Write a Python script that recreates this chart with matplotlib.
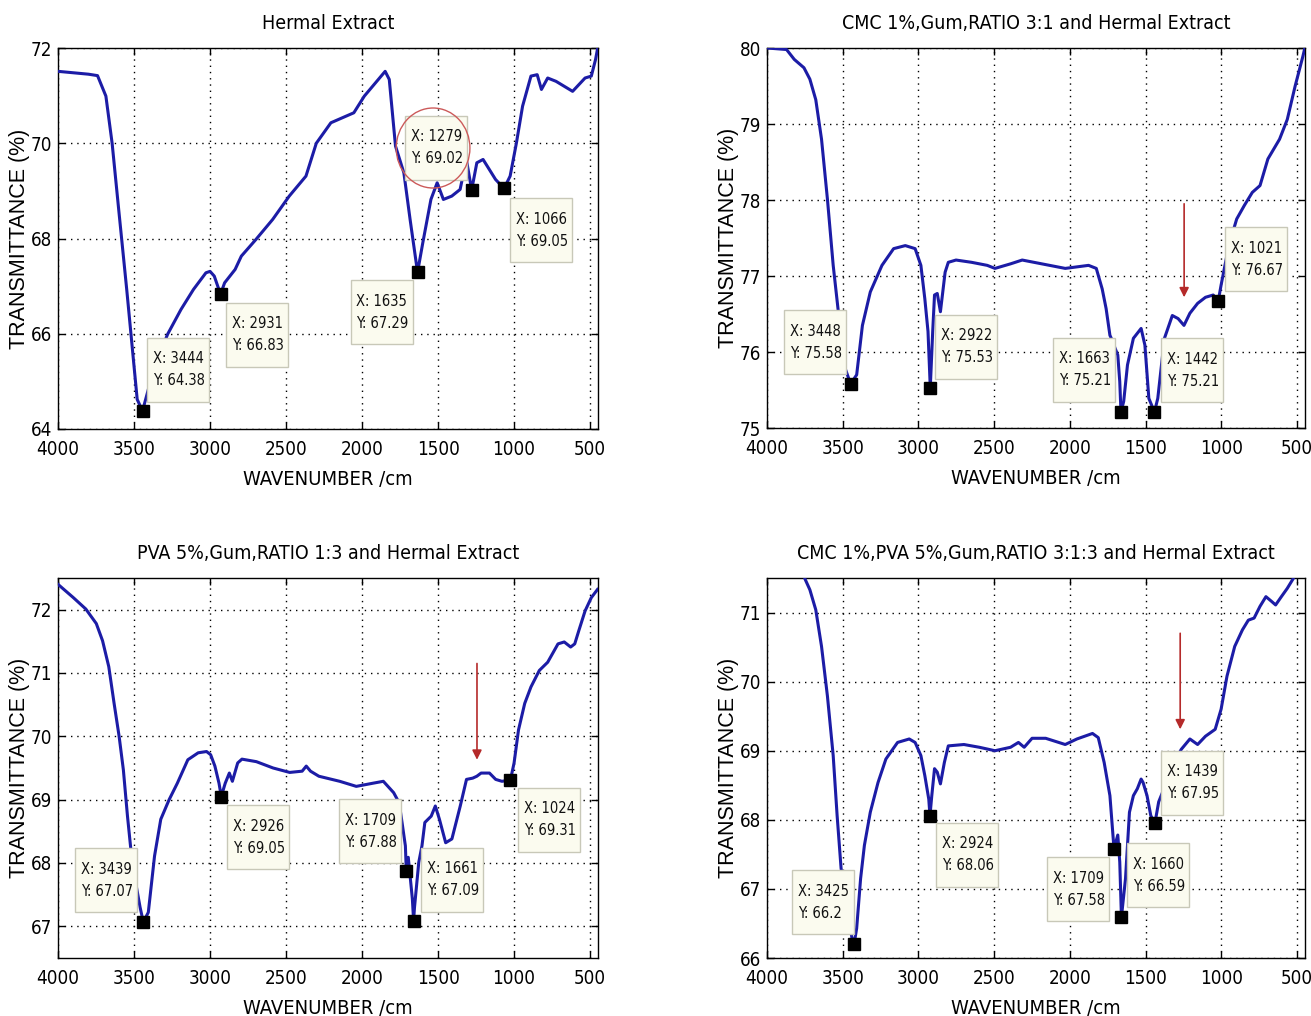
import matplotlib
matplotlib.use("Agg")
import matplotlib.pyplot as plt
from matplotlib.patches import Ellipse, Rectangle
from matplotlib.transforms import IdentityTransform

# ---------------- data ----------------
titles = ["Hermal Extract",
          "CMC 1%,Gum,RATIO 3:1 and Hermal Extract",
          "PVA 5%,Gum,RATIO 1:3 and Hermal Extract",
          "CMC 1%,PVA 5%,Gum,RATIO 3:1:3 and Hermal Extract"]

wn1 = [4000, 3900, 3800, 3740, 3685, 3644, 3603, 3548, 3479, 3444, 3400, 3340, 3279, 3191, 3109,
       3027, 3000, 2972, 2931, 2904, 2835, 2794, 2698, 2588, 2479, 2369, 2301, 2205, 2054, 1985,
       1848, 1821, 1780, 1725, 1684, 1635, 1601, 1547, 1506, 1465, 1410, 1355, 1314, 1279, 1245,
       1204, 1163, 1122, 1066, 1026, 985, 944, 889, 848, 820, 779, 724, 615, 533, 492, 464, 450]
tr1 = [71.51, 71.48, 71.45, 71.42, 70.99, 70.0, 68.68, 66.93, 64.62, 64.38, 64.9, 65.5, 65.99,
       66.51, 66.93, 67.28, 67.31, 67.21, 66.83, 67.07, 67.35, 67.63, 67.98, 68.40, 68.89, 69.31,
       70.0, 70.43, 70.64, 70.99, 71.51, 71.34, 69.94, 69.38, 68.4, 67.29, 67.9, 68.82, 69.17,
       68.82, 68.89, 69.03, 69.66, 69.02, 69.59, 69.66, 69.45, 69.24, 69.05, 69.31, 70.0, 70.78,
       71.41, 71.44, 71.13, 71.37, 71.3, 71.09, 71.37, 71.41, 71.76, 72.0]

wn2 = [4000, 3871, 3820, 3756, 3717, 3678, 3640, 3601, 3563, 3524, 3485, 3448, 3408, 3370, 3318,
       3241, 3164, 3087, 3022, 2984, 2958, 2937, 2922, 2906, 2894, 2876, 2855, 2824, 2803, 2752,
       2649, 2546, 2495, 2392, 2315, 2186, 2031, 1877, 1826, 1787, 1761, 1736, 1718, 1702, 1684,
       1671, 1663, 1645, 1620, 1581, 1530, 1505, 1479, 1442, 1420, 1376, 1324, 1286, 1247, 1208,
       1157, 1105, 1054, 1021, 1002, 951, 899, 848, 796, 745, 693, 616, 565, 513, 462, 449]
tr2 = [80.0, 79.98, 79.85, 79.74, 79.59, 79.32, 78.8, 78.01, 77.14, 76.44, 75.79, 75.58, 75.70,
       76.35, 76.79, 77.14, 77.36, 77.40, 77.36, 77.14, 76.70, 76.27, 75.53, 76.27, 76.75, 76.77,
       76.53, 77.05, 77.18, 77.21, 77.18, 77.14, 77.10, 77.16, 77.21, 77.16, 77.10, 77.14, 77.10,
       76.83, 76.57, 76.22, 76.14, 76.05, 75.96, 75.61, 75.21, 75.35, 75.83, 76.18, 76.31, 76.09,
       75.39, 75.21, 75.39, 76.18, 76.48, 76.44, 76.35, 76.51, 76.64, 76.72, 76.75, 76.67, 76.88,
       77.40, 77.75, 77.93, 78.10, 78.19, 78.54, 78.80, 79.06, 79.50, 79.89, 80.0]

wn3 = [4000, 3899, 3817, 3748, 3707, 3666, 3631, 3598, 3570, 3543, 3521, 3490, 3460, 3439, 3406,
       3365, 3324, 3269, 3215, 3146, 3078, 3023, 2996, 2968, 2941, 2926, 2900, 2873, 2853, 2818,
       2790, 2695, 2585, 2476, 2394, 2367, 2339, 2284, 2147, 2038, 1928, 1860, 1792, 1756, 1737,
       1715, 1709, 1696, 1669, 1661, 1655, 1627, 1606, 1587, 1545, 1518, 1491, 1450, 1409, 1354,
       1313, 1272, 1245, 1217, 1162, 1121, 1080, 1024, 1000, 971, 930, 889, 834, 779, 711, 670,
       628, 601, 574, 533, 492, 451]
tr3 = [72.40, 72.19, 72.01, 71.78, 71.51, 71.10, 70.52, 70.0, 69.47, 68.74, 68.22, 67.7, 67.3,
       67.07, 67.22, 68.11, 68.69, 69.0, 69.26, 69.63, 69.74, 69.76, 69.71, 69.53, 69.26, 69.05,
       69.26, 69.42, 69.29, 69.58, 69.64, 69.60, 69.50, 69.43, 69.45, 69.53, 69.45, 69.37, 69.29,
       69.21, 69.26, 69.29, 69.11, 68.95, 68.64, 68.27, 67.88, 68.09, 67.43, 67.09, 67.30, 68.01,
       68.27, 68.64, 68.74, 68.90, 68.69, 68.32, 68.38, 68.90, 69.32, 69.34, 69.37, 69.42, 69.42,
       69.32, 69.29, 69.31, 69.58, 70.10, 70.52, 70.78, 71.04, 71.17, 71.46, 71.49, 71.41, 71.46,
       71.67, 71.98, 72.19, 72.32]

wn4 = [3800, 3750, 3717, 3678, 3640, 3601, 3563, 3537, 3511, 3470, 3440, 3425, 3408, 3382, 3357,
       3318, 3267, 3215, 3138, 3061, 3022, 2984, 2958, 2932, 2924, 2912, 2894, 2876, 2855, 2829,
       2803, 2700, 2598, 2495, 2392, 2340, 2302, 2250, 2160, 2031, 1954, 1851, 1813, 1774, 1736,
       1709, 1684, 1671, 1660, 1633, 1607, 1581, 1555, 1530, 1517, 1491, 1466, 1439, 1414, 1370,
       1320, 1265, 1208, 1157, 1105, 1041, 1002, 963, 912, 861, 822, 784, 745, 706, 668, 642, 604,
       565, 526, 500]
tr4 = [72.2, 71.49, 71.33, 71.04, 70.51, 69.79, 68.93, 68.06, 67.30, 66.7, 66.3, 66.2, 66.43,
       67.15, 67.63, 68.11, 68.54, 68.88, 69.12, 69.17, 69.12, 68.93, 68.64, 68.30, 68.06, 68.35,
       68.74, 68.69, 68.52, 68.83, 69.07, 69.09, 69.05, 69.0, 69.05, 69.12, 69.05, 69.18, 69.18,
       69.09, 69.17, 69.25, 69.19, 68.83, 68.35, 67.58, 67.78, 67.39, 66.59, 67.15, 68.11, 68.35,
       68.45, 68.59, 68.54, 68.35, 68.06, 67.95, 68.26, 68.5, 68.8, 69.02, 69.17, 69.09, 69.21,
       69.31, 69.60, 70.08, 70.51, 70.75, 70.89, 70.92, 71.09, 71.23, 71.16, 71.11, 71.23, 71.35,
       71.49, 71.8]

# data tips (X, Y) per panel
tipx1 = [3444, 2931, 1635, 1279, 1066]
tipy1 = [64.38, 66.83, 67.29, 69.02, 69.05]
tipx2 = [3448, 2922, 1663, 1442, 1021]
tipy2 = [75.58, 75.53, 75.21, 75.21, 76.67]
tipx3 = [3439, 2926, 1709, 1661, 1024]
tipy3 = [67.07, 69.05, 67.88, 67.09, 69.31]
tipx4 = [3425, 2924, 1709, 1660, 1439]
tipy4 = [66.2, 68.06, 67.58, 66.59, 67.95]

yticks = [[64, 66, 68, 70, 72], [75, 76, 77, 78, 79, 80],
          [67, 68, 69, 70, 71, 72], [66, 67, 68, 69, 70, 71]]
ylims = [(64, 72), (75, 80), (66.5, 72.5), (66, 71.5)]
xticks = [4000, 3500, 3000, 2500, 2000, 1500, 1000, 500]

# ---------------- layout ----------------
W, H = 1311, 1016
axes_px = [(58, 48, 598, 429), (767, 48, 1305, 428),
           (58, 578, 598, 958), (767, 578, 1305, 958)]
# top-left corners of the data tip boxes (wavenumber, transmittance)
box_pos = [
    [(3416, 65.92), (2898, 66.65), (2076, 67.12), (1717, 70.58), (1026, 68.85)],
    [(3889, 76.55), (2888, 76.49), (2109, 76.19), (1401, 76.18), (976, 77.64)],
    [(3885, 68.23), (2886, 68.91), (2153, 69.01), (1614, 68.24), (976, 69.19)],
    [(3838, 67.27), (2886, 67.96), (2152, 67.46), (1620, 67.66), (1401, 69.0)],
]
BOX_W, BOX_H = 62, 64          # data tip box size in pixels
LINE1, LINE2, TXT_L = 21, 43, 6  # text line centres / left inset in pixels
arrows = [None, (1246, 77.95, 76.72), (1244, 71.15, 69.63), (1272, 70.70, 69.31)]

NARROW = dict(family=['DejaVu Sans'], fontstretch='condensed')
LINE = '#1c1ca6'

fig = plt.figure(figsize=(W / 100, H / 100), dpi=100)
fig.patch.set_facecolor('white')

series = [(wn1, tr1), (wn2, tr2), (wn3, tr3), (wn4, tr4)]
tips = [(tipx1, tipy1), (tipx2, tipy2), (tipx3, tipy3), (tipx4, tipy4)]
ident = IdentityTransform()

for i in range(4):
    l, t, r, b = axes_px[i]
    ax = fig.add_axes([l / W, 1 - b / H, (r - l) / W, (b - t) / H])
    wn, tr = series[i]
    ax.plot(wn, tr, color=LINE, lw=2.2, zorder=3)
    ax.set_xlim(4000, 448)
    ax.set_ylim(*ylims[i])
    ax.set_xticks(xticks)
    ax.set_yticks(yticks[i])
    ax.set_xticklabels([str(v) for v in xticks], fontsize=13.5, **NARROW)
    ax.set_yticklabels([str(v) for v in yticks[i]], fontsize=13.5, **NARROW)
    ax.tick_params(axis='x', direction='in', top=True, length=5, width=1, pad=8)
    ax.tick_params(axis='y', direction='in', right=True, length=5, width=1, pad=4)
    ax.grid(True, color='black', linestyle=(0, (1, 3.5)), linewidth=1.0, zorder=1)
    for s in ax.spines.values():
        s.set_linewidth(1.0)
        s.set_color('black')
    ax.set_title(titles[i], fontsize=14, pad=14, **NARROW)
    ax.set_xlabel('WAVENUMBER /cm', fontsize=14.5, labelpad=8, **NARROW)
    ax.set_ylabel('TRANSMITTANCE (%)', family=['Liberation Sans', 'DejaVu Sans'],
                  fontsize=15.5, labelpad=1)

    tx, ty = tips[i]
    ax.plot(tx, ty, 's', color='black', ms=9, zorder=6, clip_on=False)
    for (x, y), (bx, by) in zip(zip(tx, ty), box_pos[i]):
        px, py = ax.transData.transform((bx, by))   # box top-left in pixels
        rect = Rectangle((px, py - BOX_H), BOX_W, BOX_H, transform=ident,
                         facecolor='#fbfbef', edgecolor='#c8c8b8', lw=1.0, zorder=7)
        ax.add_artist(rect)
        ax.text(px + TXT_L, py - LINE1, f"X: {x}", transform=ident, ha='left',
                va='center', fontsize=10.5, color='#111111', zorder=8, **NARROW)
        ax.text(px + TXT_L, py - LINE2, f"Y: {y:g}", transform=ident, ha='left',
                va='center', fontsize=10.5, color='#111111', zorder=8, **NARROW)

    if arrows[i] is not None:
        ax_x, y0, y1 = arrows[i]
        ax.annotate('', xy=(ax_x, y1), xytext=(ax_x, y0),
                    arrowprops=dict(arrowstyle='-|>', color='#b52a2a', lw=1.2,
                                    mutation_scale=14, shrinkA=0, shrinkB=0),
                    zorder=9)

    if i == 0:
        ax.add_patch(Ellipse((1533, 69.90), 485, 1.68, fill=False,
                             edgecolor='#cc5a5a', lw=1.0, zorder=9))

fig.savefig('out.png', dpi=100)
